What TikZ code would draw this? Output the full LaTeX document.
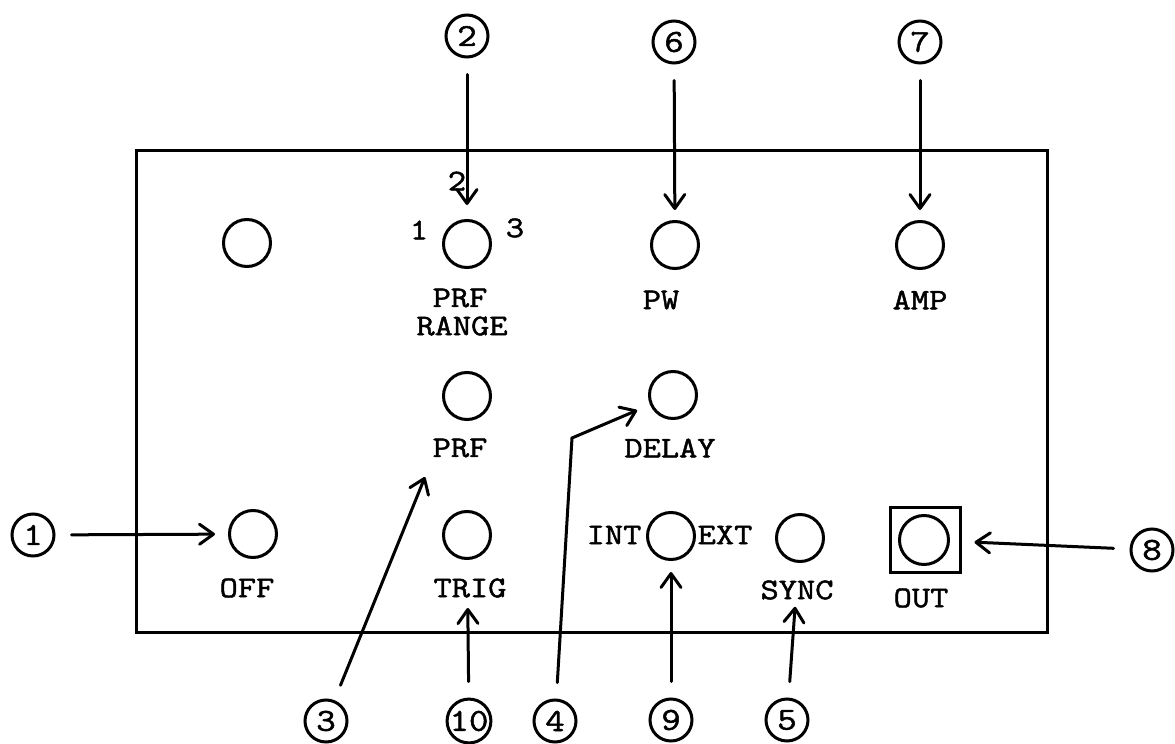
\documentclass[tikz,border=0pt]{standalone}
\usepackage{fontspec}
\newfontfamily\tw[FakeBold=1.6,FakeStretch=1.18]{Latin Modern Mono}
\usetikzlibrary{arrows.meta}
\begin{document}
\begin{tikzpicture}[x=0.5pt,y=-0.5pt,
  line width=1.5pt,
  knob/.style={circle,draw,minimum size=23.5pt,inner sep=0pt},
  callout/.style={circle,draw,minimum size=21pt,inner sep=0pt,font=\tw\fontsize{16}{16}\selectfont},
  lbl/.style={inner sep=0pt,font=\tw\fontsize{15}{15}\selectfont},
  pointer/.style={-{Straight Barb[length=7pt,width=10pt,round]},line cap=round,shorten <=8pt},
]
\useasboundingbox (0,0) rectangle (1175,744);

% panel
\draw (136,150) rectangle (1047,632);

% knobs
\node[knob] (k0) at (247,243) {};
\node[knob] (k2) at (467,244) {};
\node[knob] (k6) at (675,245) {};
\node[knob] (k7) at (920,245) {};
\node[knob] (kprf) at (467,396) {};
\node[knob] (kdl) at (673,395) {};
\node[knob] (koff) at (253,534) {};
\node[knob] (ktrig) at (467,535) {};
\node[knob] (kie) at (671,536) {};
\node[knob] (ksync) at (800,538) {};
\node[draw,minimum width=35pt,minimum height=32.5pt,inner sep=0pt] (outbox) at (925,540) {};
\node[knob,minimum size=24.5pt] (kout) at (924,540) {};

% labels
\node[lbl] (n1) at (419,230) {1};
\node[lbl] (n2) at (457,181) {2};
\node[lbl] (n3) at (515,228) {3};
\node[lbl] (lprfr) at (460,298) {PRF};
\node[lbl] (lrange) at (462,326) {RANGE};
\node[lbl] (lpw) at (661,300) {PW};
\node[lbl] (lamp) at (920,300) {AMP};
\node[lbl] (lprf) at (460,448) {PRF};
\node[lbl] (ldl) at (670,448) {DELAY};
\node[lbl] (loff) at (247,588) {OFF};
\node[lbl] (ltrig) at (470,588) {TRIG};
\node[lbl] (lint) at (614,535) {INT};
\node[lbl] (lext) at (725,535) {EXT};
\node[lbl] (lsync) at (797,590) {SYNC};
\node[lbl] (lout) at (921,598) {OUT};

% callouts
\node[callout] (c1) at (33,535) {1};
\node[callout] (c2) at (467,36) {2};
\node[callout] (c6) at (674,42) {6};
\node[callout] (c7) at (920,42) {7};
\node[callout] (c8) at (1152,550) {8};
\node[callout] (c3) at (326,721) {3};
\node[callout] (c10) at (469,721) {10};
\node[callout] (c4) at (555,721) {4};
\node[callout] (c9) at (671,720) {9};
\node[callout] (c5) at (787,720) {5};

\coordinate (t3) at (425,477);
\coordinate (b4) at (572,438);

% pointers
\draw[pointer,shorten >=7pt] (c2) -- (k2);
\draw[pointer,shorten >=5pt] (c6) -- (k6);
\draw[pointer,shorten >=5pt] (c7) -- (k7);
\draw[pointer,shorten >=6.5pt] (c1) -- (koff);
\draw[pointer,shorten >=6.5pt] (c8) -- (outbox);
\draw[pointer,shorten >=5.5pt] (c9) -- (kie);
\draw[pointer,shorten >=24pt] (c10) -- (ktrig);
\draw[pointer,shorten >=22pt] (c5) -- (ksync);
\draw[pointer] (c3) -- (t3);
\draw[pointer,shorten >=7pt] (c4) -- (b4) -- (kdl);
\end{tikzpicture}
\end{document}
